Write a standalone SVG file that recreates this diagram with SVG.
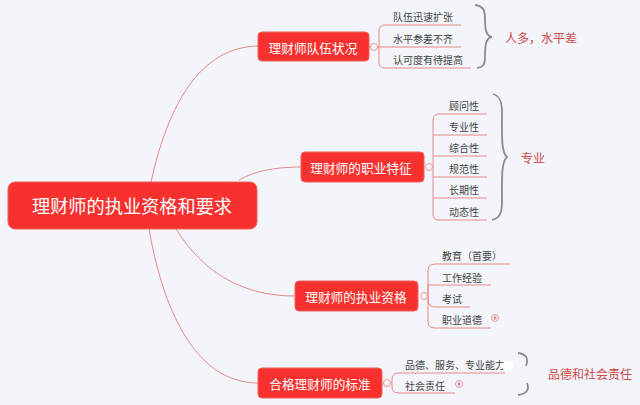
<svg xmlns="http://www.w3.org/2000/svg" width="640" height="405" viewBox="0 0 640 405">
<style>
text{font-family:"Noto Sans CJK SC","Liberation Sans",sans-serif}
.n{fill:#f8312f;stroke:#f0605a;stroke-width:1}
.w{fill:#fff;text-anchor:middle;dominant-baseline:central;font-size:12.7px}
.t{fill:#444;font-size:10px;dominant-baseline:central}
.r{fill:#cf4a45;font-size:12px;dominant-baseline:central}
.c{fill:none;stroke:#e58a86;stroke-width:1}
.m{fill:#f3f5fb;stroke:#ef9a96;stroke-width:1}
.b{fill:none;stroke:#8c8c8c;stroke-width:1.8}
</style>
<rect width="640" height="405" fill="#f3f5fb"/>
<g id="connectors">
<path class="c" d="M151 182C168 105 200 47 258 46"/>
<path class="c" d="M239 180C255 171 275 167 301 167"/>
<path class="c" d="M176 229C205 275 245 296 295 296"/>
<path class="c" d="M149 229C165 320 200 383 258 383"/>
<path class="c" d="M369 47H379M379 47V31Q379 25 385 25H461M379 47H461M379 47V63Q379 68 385 68H471"/>
<path class="c" d="M427 167H433M433 167V120Q433 114 439 114H487M433 135H487M433 156H487M433 177H487M433 198H487M433 167V214Q433 220 439 220H487"/>
<path class="c" d="M421 296H428M428 296V271Q428 264 435 264H510M428 296V285H491M428 296V300Q428 307 435 307H470M428 296V322Q428 328 435 328H491"/>
<path class="c" d="M388 382H392V379Q392 373 399 373H505M392 382V387Q392 393 399 393H455"/>
</g>
<g id="root"><rect class="n" x="8" y="182" width="249" height="47" rx="7"/><text class="w" x="132" y="205" style="font-size:18.2px">理财师的执业资格和要求</text></g>
<g id="n1"><rect class="n" x="258" y="32" width="111" height="29" rx="4"/><text class="w" x="313" y="47">理财师队伍状况</text><circle class="m" cx="374" cy="47" r="3.5"/></g>
<g id="n2"><rect class="n" x="301" y="152" width="123" height="30" rx="4"/><text class="w" x="361" y="167">理财师的职业特征</text><circle class="m" cx="429" cy="167" r="3.5"/></g>
<g id="n3"><rect class="n" x="295" y="281" width="123" height="30" rx="4"/><text class="w" x="356" y="296">理财师的执业资格</text><circle class="m" cx="424" cy="296" r="3.5"/></g>
<g id="n4"><rect class="n" x="258" y="368" width="124" height="30" rx="4"/><text class="w" x="320" y="383">合格理财师的标准</text><circle class="m" cx="387" cy="383" r="3.5"/></g>
<g id="leaves1"><text class="t" x="393" y="16">队伍迅速扩张</text><text class="t" x="393" y="38">水平参差不齐</text><text class="t" x="393" y="59">认可度有待提高</text></g>
<g id="leaves2"><text class="t" x="449" y="105">顾问性</text><text class="t" x="449" y="126">专业性</text><text class="t" x="449" y="147">综合性</text><text class="t" x="449" y="168">规范性</text><text class="t" x="449" y="189">长期性</text><text class="t" x="449" y="211">动态性</text></g>
<g id="leaves3"><text class="t" x="442" y="255">教育（首要）</text><text class="t" x="442" y="277">工作经验</text><text class="t" x="442" y="298">考试</text><text class="t" x="442" y="319">职业道德</text><circle class="m" cx="495" cy="318" r="3.5"/><path d="M493 318H497M495 316V320" stroke="#d9605a" stroke-width="0.8"/></g>
<g id="leaves4"><text class="t" x="405" y="364">品德、服务、专业能力</text><text class="t" x="405" y="385">社会责任</text><circle class="m" cx="459" cy="384" r="3.5"/><path d="M457 384H461M459 382V386" stroke="#d9605a" stroke-width="0.8"/></g>
<g id="braces">
<path class="b" d="M475 5C483 6 485 10 485 18C485 30 486 36 492 37C486 38 485 44 485 56C485 64 484 67 477 68"/>
<path class="b" d="M493 94C500 96 502 102 502 112C502 135 501 152 507 157C501 162 502 180 502 202C502 213 500 218 492 220"/>
<path class="b" d="M518 353C526 354 529 358 526 366M527 383C530 390 526 394 518 395"/>
</g>
<ellipse cx="508" cy="366" rx="6" ry="5" fill="#fff"/>
<text class="r" x="505" y="37">人多，水平差</text>
<text class="r" x="521" y="157">专业</text>
<text class="r" x="548" y="373">品德和社会责任</text>
</svg>
